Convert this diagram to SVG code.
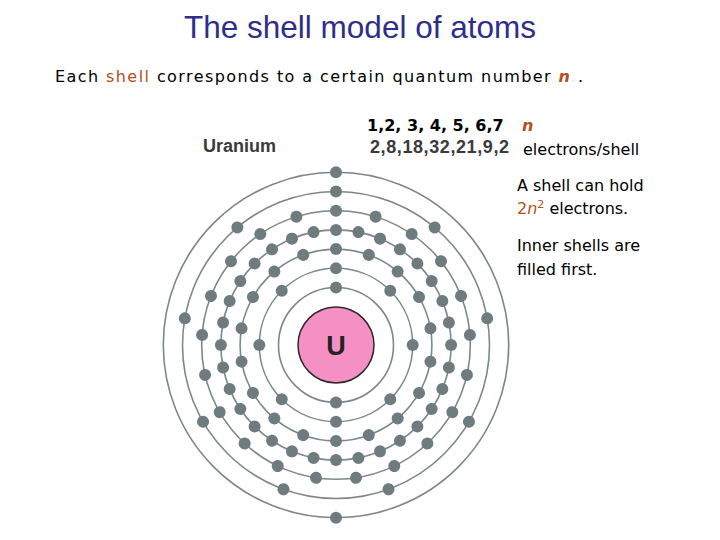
<svg xmlns="http://www.w3.org/2000/svg" xmlns:xlink="http://www.w3.org/1999/xlink" width="720" height="540" viewBox="0 0 720 540">
<style>
.orb{fill:none;stroke:#7d8789;stroke-width:1.6}
.e{fill:#6e7c80}
.t{font-family:"DejaVu Sans",sans-serif;font-size:16px;fill:#000}
.br{fill:#b0501c}
</style>
<rect width="720" height="540" fill="#fff"/>
<text x="360" y="38" text-anchor="middle" font-family="Liberation Sans,sans-serif" font-size="31.5" fill="#2e2e8a">The shell model of atoms</text>
<text class="t" x="55" y="82" font-size="17" textLength="528">Each <tspan class="br">shell</tspan> corresponds to a certain quantum number <tspan class="br" font-style="italic" font-weight="bold">n</tspan> .</text>
<text class="t" x="367" y="131" font-weight="bold" font-size="15">1,2, 3, 4, 5, 6,7</text>
<text class="t br" x="522" y="131" font-style="italic" font-weight="bold" font-size="15">n</text>
<text x="203" y="152" font-family="Liberation Sans,sans-serif" font-weight="bold" font-size="18" fill="#3a3a3a">Uranium</text>
<text x="370" y="153" font-family="Liberation Sans,sans-serif" font-weight="bold" font-size="18" fill="#3a3a3a" textLength="139">2,8,18,32,21,9,2</text>
<text class="t" x="523" y="155">electrons/shell</text>
<text class="t" x="517" y="191">A shell can hold</text>
<text class="t" x="517" y="214"><tspan class="br">2</tspan><tspan class="br" font-style="italic">n</tspan><tspan class="br" font-size="11" dy="-6">2</tspan><tspan dy="6"> electrons.</tspan></text>
<text class="t" x="517" y="251">Inner shells are</text>
<text class="t" x="517" y="275">filled first.</text>
<g id="orbits">
<circle class="orb" cx="336" cy="345" r="57.5"/>
<circle class="orb" cx="336" cy="345" r="76.7"/>
<circle class="orb" cx="336" cy="345" r="95.9"/>
<circle class="orb" cx="336" cy="345" r="115.1"/>
<circle class="orb" cx="336" cy="345" r="134.3"/>
<circle class="orb" cx="336" cy="345" r="153.5"/>
<circle class="orb" cx="336" cy="345" r="172.7"/>
</g>
<defs>
<circle id="s1" class="e" cx="336" cy="287.5" r="6"/>
<circle id="s2" class="e" cx="336" cy="268.3" r="6"/>
<circle id="s3" class="e" cx="336" cy="249.1" r="6"/>
<circle id="s4" class="e" cx="336" cy="229.9" r="6"/>
<circle id="s5" class="e" cx="336" cy="210.7" r="6"/>
<circle id="s6" class="e" cx="336" cy="191.5" r="6"/>
<circle id="s7" class="e" cx="336" cy="172.3" r="6"/>
</defs>
<g id="shell1"><use href="#s1"/><use href="#s1" transform="rotate(180 336 345)"/></g>
<g id="shell2">
<use href="#s2"/><use href="#s2" transform="rotate(45 336 345)"/><use href="#s2" transform="rotate(90 336 345)"/><use href="#s2" transform="rotate(135 336 345)"/><use href="#s2" transform="rotate(180 336 345)"/><use href="#s2" transform="rotate(225 336 345)"/><use href="#s2" transform="rotate(270 336 345)"/><use href="#s2" transform="rotate(315 336 345)"/>
</g>
<g id="shell3">
<use href="#s3"/><use href="#s3" transform="rotate(20 336 345)"/><use href="#s3" transform="rotate(40 336 345)"/><use href="#s3" transform="rotate(60 336 345)"/><use href="#s3" transform="rotate(80 336 345)"/><use href="#s3" transform="rotate(100 336 345)"/><use href="#s3" transform="rotate(120 336 345)"/><use href="#s3" transform="rotate(140 336 345)"/><use href="#s3" transform="rotate(160 336 345)"/><use href="#s3" transform="rotate(180 336 345)"/><use href="#s3" transform="rotate(200 336 345)"/><use href="#s3" transform="rotate(220 336 345)"/><use href="#s3" transform="rotate(240 336 345)"/><use href="#s3" transform="rotate(260 336 345)"/><use href="#s3" transform="rotate(280 336 345)"/><use href="#s3" transform="rotate(300 336 345)"/><use href="#s3" transform="rotate(320 336 345)"/><use href="#s3" transform="rotate(340 336 345)"/>
</g>
<g id="shell4">
<use href="#s4"/><use href="#s4" transform="rotate(11.25 336 345)"/><use href="#s4" transform="rotate(22.5 336 345)"/><use href="#s4" transform="rotate(33.75 336 345)"/><use href="#s4" transform="rotate(45 336 345)"/><use href="#s4" transform="rotate(56.25 336 345)"/><use href="#s4" transform="rotate(67.5 336 345)"/><use href="#s4" transform="rotate(78.75 336 345)"/><use href="#s4" transform="rotate(90 336 345)"/><use href="#s4" transform="rotate(101.25 336 345)"/><use href="#s4" transform="rotate(112.5 336 345)"/><use href="#s4" transform="rotate(123.75 336 345)"/><use href="#s4" transform="rotate(135 336 345)"/><use href="#s4" transform="rotate(146.25 336 345)"/><use href="#s4" transform="rotate(157.5 336 345)"/><use href="#s4" transform="rotate(168.75 336 345)"/><use href="#s4" transform="rotate(180 336 345)"/><use href="#s4" transform="rotate(191.25 336 345)"/><use href="#s4" transform="rotate(202.5 336 345)"/><use href="#s4" transform="rotate(213.75 336 345)"/><use href="#s4" transform="rotate(225 336 345)"/><use href="#s4" transform="rotate(236.25 336 345)"/><use href="#s4" transform="rotate(247.5 336 345)"/><use href="#s4" transform="rotate(258.75 336 345)"/><use href="#s4" transform="rotate(270 336 345)"/><use href="#s4" transform="rotate(281.25 336 345)"/><use href="#s4" transform="rotate(292.5 336 345)"/><use href="#s4" transform="rotate(303.75 336 345)"/><use href="#s4" transform="rotate(315 336 345)"/><use href="#s4" transform="rotate(326.25 336 345)"/><use href="#s4" transform="rotate(337.5 336 345)"/><use href="#s4" transform="rotate(348.75 336 345)"/>
</g>
<g id="shell5">
<use href="#s5"/><use href="#s5" transform="rotate(17.14 336 345)"/><use href="#s5" transform="rotate(34.29 336 345)"/><use href="#s5" transform="rotate(51.43 336 345)"/><use href="#s5" transform="rotate(68.57 336 345)"/><use href="#s5" transform="rotate(85.71 336 345)"/><use href="#s5" transform="rotate(102.86 336 345)"/><use href="#s5" transform="rotate(120 336 345)"/><use href="#s5" transform="rotate(137.14 336 345)"/><use href="#s5" transform="rotate(154.29 336 345)"/><use href="#s5" transform="rotate(171.43 336 345)"/><use href="#s5" transform="rotate(188.57 336 345)"/><use href="#s5" transform="rotate(205.71 336 345)"/><use href="#s5" transform="rotate(222.86 336 345)"/><use href="#s5" transform="rotate(240 336 345)"/><use href="#s5" transform="rotate(257.14 336 345)"/><use href="#s5" transform="rotate(274.29 336 345)"/><use href="#s5" transform="rotate(291.43 336 345)"/><use href="#s5" transform="rotate(308.57 336 345)"/><use href="#s5" transform="rotate(325.71 336 345)"/><use href="#s5" transform="rotate(342.86 336 345)"/>
</g>
<g id="shell6">
<use href="#s6"/><use href="#s6" transform="rotate(40 336 345)"/><use href="#s6" transform="rotate(80 336 345)"/><use href="#s6" transform="rotate(120 336 345)"/><use href="#s6" transform="rotate(160 336 345)"/><use href="#s6" transform="rotate(200 336 345)"/><use href="#s6" transform="rotate(240 336 345)"/><use href="#s6" transform="rotate(280 336 345)"/><use href="#s6" transform="rotate(320 336 345)"/>
</g>
<g id="shell7"><use href="#s7"/><use href="#s7" transform="rotate(180 336 345)"/></g>
<g id="nucleus">
<circle cx="336" cy="345" r="38" fill="#f590c4" stroke="#2a2a2a" stroke-width="1.5"/>
<text x="336" y="355" text-anchor="middle" font-family="Liberation Sans,sans-serif" font-weight="bold" font-size="27" fill="#222">U</text>
</g>
</svg>
